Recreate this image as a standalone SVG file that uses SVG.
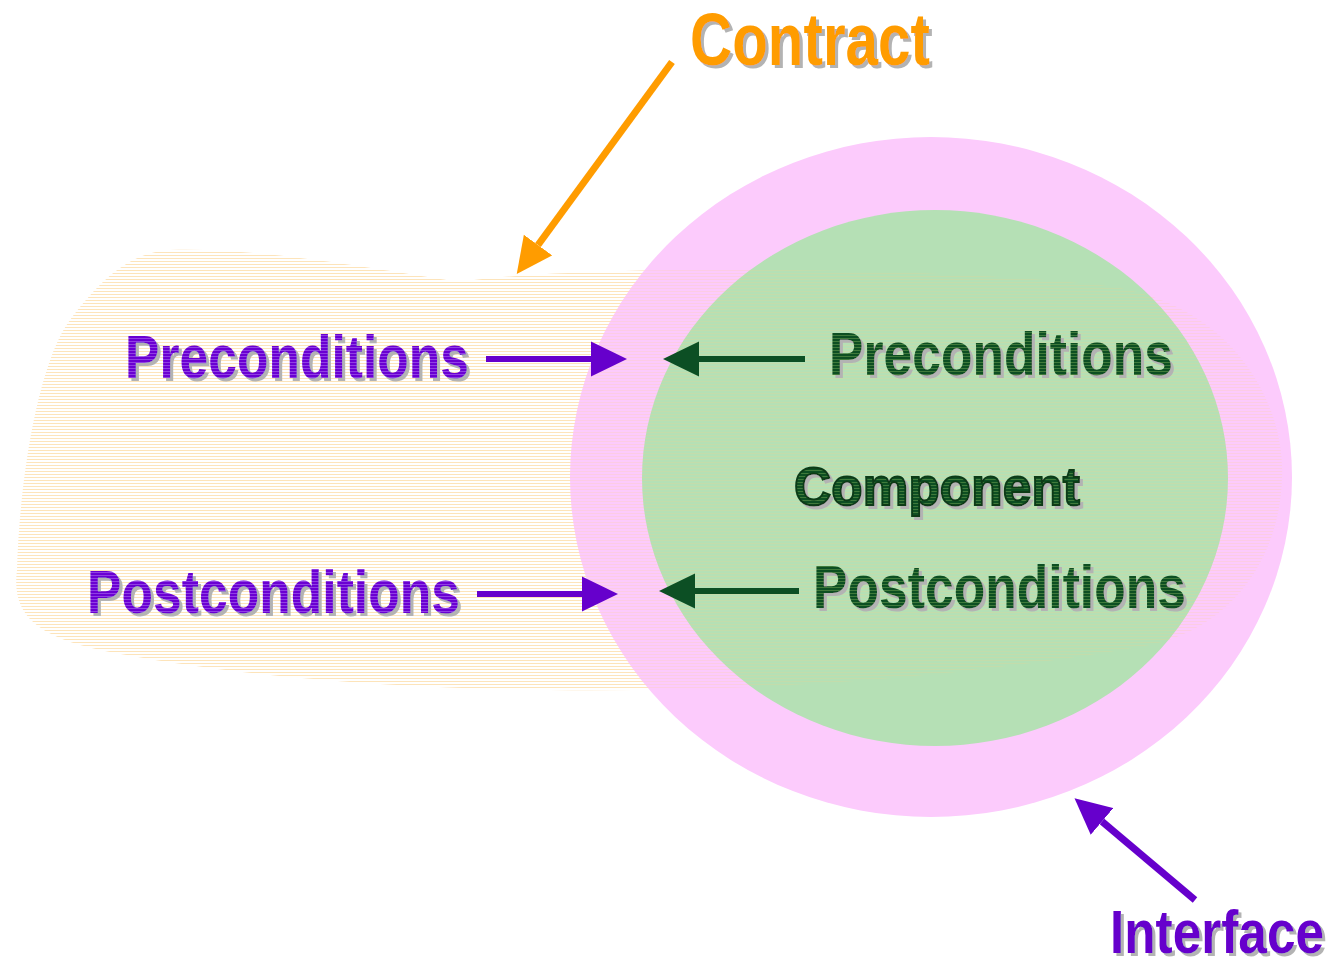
<svg xmlns="http://www.w3.org/2000/svg" width="1339" height="958" viewBox="0 0 1339 958">
  <style>
    .lbl { font-family: "Liberation Sans Narrow", "Liberation Sans", Arial, sans-serif; font-weight: bold; filter: url(#dropShadow); }
    .comp { font-family: "Liberation Sans", Arial, sans-serif; font-weight: bold; filter: url(#dropShadow); }
    .purple { fill: url(#purpleStripe); }
    .green { fill: url(#greenStripe); }
    .orange { fill: #ff9c00; }
    .violet { fill: #6600cc; }
  </style>
  <defs>
    <!-- grey offset shadow behind every label -->
    <filter id="dropShadow" x="-5%" y="-10%" width="115%" height="130%">
      <feOffset in="SourceAlpha" dx="3" dy="3" result="off"/>
      <feFlood flood-color="#b3b3b3"/>
      <feComposite in2="off" operator="in" result="shadow"/>
      <feMerge>
        <feMergeNode in="shadow"/>
        <feMergeNode in="SourceGraphic"/>
      </feMerge>
    </filter>
    <!-- faint horizontal hatching used for the contract area -->
    <pattern id="contractStripe" patternUnits="userSpaceOnUse" width="8" height="3">
      <rect x="0" y="0" width="8" height="1" fill="#fbcf86" fill-opacity="0.45"/>
    </pattern>
    <path id="contractShape" d="M170,250 C260,247 380,270 460,282 C560,266 900,264 1100,285 C1230,300 1285,400 1282,477 C1280,560 1230,628 1150,645 C950,680 750,692 550,690 C350,688 200,670 100,650 C30,635 12,610 17,570 C20,470 40,360 70,320 C100,280 130,252 170,250 Z"/>
    <pattern id="purpleStripe" patternUnits="userSpaceOnUse" width="8" height="3">
      <rect x="0" y="0" width="8" height="3" fill="#6a00d2"/>
      <rect x="0" y="2" width="8" height="1" fill="#9040e4"/>
    </pattern>
    <pattern id="greenStripe" patternUnits="userSpaceOnUse" width="8" height="3">
      <rect x="0" y="0" width="8" height="3" fill="#0c4f24"/>
      <rect x="0" y="2" width="8" height="1" fill="#3f7a3a"/>
    </pattern>
    <marker id="headPurple" markerUnits="userSpaceOnUse" markerWidth="36" markerHeight="36" refX="0" refY="17.5" orient="auto" viewBox="0 0 36 35">
      <path d="M0,0 L36,17.5 L0,35 Z" fill="#6600cc"/>
    </marker>
    <marker id="headGreen" markerUnits="userSpaceOnUse" markerWidth="36" markerHeight="36" refX="0" refY="17.5" orient="auto" viewBox="0 0 36 35">
      <path d="M0,0 L36,17.5 L0,35 Z" fill="#0c4f24"/>
    </marker>
    <marker id="headOrange" markerUnits="userSpaceOnUse" markerWidth="36" markerHeight="36" refX="0" refY="17.5" orient="auto" viewBox="0 0 36 35">
      <path d="M0,0 L36,17.5 L0,35 Z" fill="#ff9c00"/>
    </marker>
  </defs>

  <rect width="1339" height="958" fill="#ffffff"/>

  <!-- Contract area: full hatching on the page, faint hatching over the rings -->
  <g id="contract-area">
    <use href="#contractShape" fill="url(#contractStripe)"/>
  </g>

  <!-- Interface ring and component core -->
  <g id="interface-ring">
    <ellipse cx="931" cy="477" rx="361" ry="340" fill="#fccbfc"/>
  </g>
  <g id="component-core">
    <ellipse cx="935" cy="478" rx="293" ry="268" fill="#b5e0b5"/>
  </g>
  <g id="contract-overlay" opacity="0.45">
    <use href="#contractShape" fill="url(#contractStripe)"/>
  </g>

  <!-- Connectors -->
  <g id="connectors">
    <line x1="672" y1="62" x2="538" y2="245" stroke="#ff9c00" stroke-width="7" marker-end="url(#headOrange)"/>
    <line x1="486" y1="359" x2="591" y2="359" stroke="#6600cc" stroke-width="6" marker-end="url(#headPurple)"/>
    <line x1="477" y1="594" x2="582" y2="594" stroke="#6600cc" stroke-width="6" marker-end="url(#headPurple)"/>
    <line x1="805" y1="359" x2="699" y2="359" stroke="#0c4f24" stroke-width="6" marker-end="url(#headGreen)"/>
    <line x1="799" y1="591" x2="695" y2="591" stroke="#0c4f24" stroke-width="6" marker-end="url(#headGreen)"/>
    <line x1="1195" y1="900" x2="1102" y2="821.5" stroke="#6600cc" stroke-width="7" marker-end="url(#headPurple)"/>
  </g>

  <!-- Labels -->
  <g id="contract-label">
    <text class="lbl orange" x="690" y="65" font-size="75" textLength="240" lengthAdjust="spacingAndGlyphs">Contract</text>
  </g>
  <g id="pre-outer">
    <text class="lbl purple" x="125" y="378" font-size="62" textLength="344" lengthAdjust="spacingAndGlyphs">Preconditions</text>
  </g>
  <g id="post-outer">
    <text class="lbl purple" x="87" y="613" font-size="62" textLength="373" lengthAdjust="spacingAndGlyphs">Postconditions</text>
  </g>
  <g id="pre-inner">
    <text class="lbl green" x="829" y="375" font-size="62" textLength="344" lengthAdjust="spacingAndGlyphs">Preconditions</text>
  </g>
  <g id="component">
    <text class="comp green" x="794" y="505" font-size="54" textLength="286" lengthAdjust="spacingAndGlyphs" stroke="#083a18" stroke-width="2">Component</text>
  </g>
  <g id="post-inner">
    <text class="lbl green" x="813" y="608" font-size="62" textLength="373" lengthAdjust="spacingAndGlyphs">Postconditions</text>
  </g>
  <g id="interface-label">
    <text class="lbl violet" x="1110" y="953" font-size="61" textLength="214" lengthAdjust="spacingAndGlyphs">Interface</text>
  </g>
</svg>
